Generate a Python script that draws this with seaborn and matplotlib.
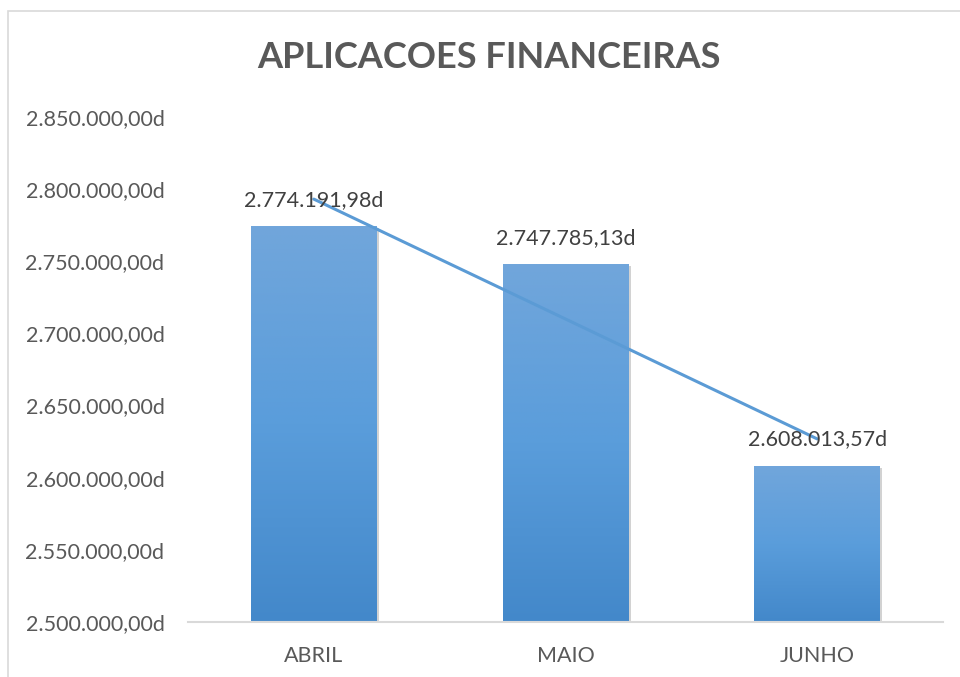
import numpy as np
import pandas as pd
import matplotlib
matplotlib.use("Agg")
import matplotlib.pyplot as plt
import matplotlib.patheffects as pe
from matplotlib.colors import LinearSegmentedColormap
from matplotlib.patches import Rectangle
import seaborn as sns

# ---- data ----
months = ["ABRIL", "MAIO", "JUNHO"]
values = [2774191.98, 2747785.13, 2608013.57]
y_ticks = [2500000, 2550000, 2600000, 2650000, 2700000, 2750000, 2800000, 2850000]
title = "APLICACOES FINANCEIRAS"

def fmt(v):
    s = f"{v:,.2f}"
    return s.replace(",", "X").replace(".", ",").replace("X", ".") + "d"

sns.set_theme(style="white")
plt.rcParams["font.family"] = ["Lato", "DejaVu Sans"]

W, H = 960, 677
fig = plt.figure(figsize=(W / 100, H / 100), dpi=100)
ax = fig.add_axes([188 / W, 1 - 622 / H, (943 - 188) / W, (622 - 117) / H])

df = pd.DataFrame({"mes": months, "valor": values})
sns.barplot(data=df, x="mes", y="valor", ax=ax, width=0.5, color="#5B9BD5",
            saturation=1, zorder=2)

ymin = y_ticks[0]
# gradient fill for the bars (bars start at the axis floor, like the reference)
cmap = LinearSegmentedColormap.from_list("g", ["#4388CA", "#5A9DDB", "#71A6DB"])
grad = np.linspace(0, 1, 256).reshape(-1, 1)
for p in list(ax.patches):
    top = p.get_y() + p.get_height()
    p.set_y(ymin)
    p.set_height(top - ymin)
    x0, w = p.get_x(), p.get_width()
    p.set_facecolor("#5B9BD5")
    p.set_edgecolor("none")
    p.set_path_effects([pe.SimplePatchShadow(offset=(1.5, -1.0), shadow_rgbFace="#808080",
                                             alpha=0.35), pe.Normal()])
    im = ax.imshow(grad, extent=[x0, x0 + w, ymin, top], origin="lower", cmap=cmap,
                   aspect="auto", zorder=2.5, interpolation="bilinear")
    im.set_clip_path(p)

# linear trendline
sns.regplot(x=np.arange(len(values)), y=np.array(values), ax=ax, scatter=False, ci=None,
            truncate=True, line_kws=dict(color="#5B9BD5", lw=2.2, zorder=4))

# data labels
for i, v in enumerate(values):
    ax.annotate(fmt(v), (i, v), xytext=(0, 12), textcoords="offset points",
                ha="center", va="bottom", fontsize=15.5, color="#404040", zorder=5)

ax.set_xlim(-0.5, len(months) - 0.5)
ax.set_ylim(y_ticks[0], y_ticks[-1])
ax.set_yticks(y_ticks)
ax.set_yticklabels([fmt(t) for t in y_ticks])
ax.set_xlabel("")
ax.set_ylabel("")
ax.tick_params(axis="both", length=0, labelsize=15.5, labelcolor="#595959")
ax.tick_params(axis="y", pad=17)
ax.tick_params(axis="x", pad=17)
for s in ["top", "right", "left"]:
    ax.spines[s].set_visible(False)
ax.spines["bottom"].set_color("#D9D9D9")
ax.spines["bottom"].set_linewidth(1.5)
ax.spines["bottom"].set_zorder(3)

fig.text(489 / W, 1 - 57 / H, title, ha="center", va="center", fontsize=26,
         fontweight="bold", color="#595959")

# chart border
fig.patches.append(Rectangle((8 / W, -0.1), 1.2, 1 - 11 / H + 0.1, transform=fig.transFigure,
                             fill=False, edgecolor="#D9D9D9", lw=1.2))

fig.savefig("out.png", dpi=100)
